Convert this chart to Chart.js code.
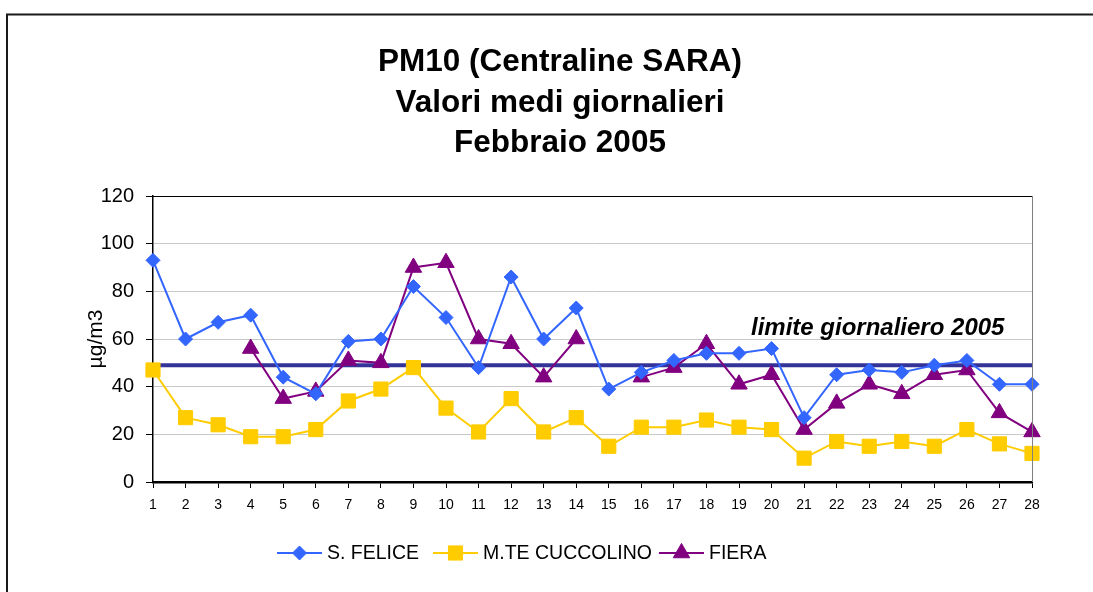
<!DOCTYPE html>
<html><head><meta charset="utf-8">
<style>html,body{margin:0;padding:0;background:#fff;overflow:hidden}#wrap{width:1093px;height:592px;position:relative}</style>
<script src="https://cdn.jsdelivr.net/npm/chart.js@4/dist/chart.umd.min.js"></script>
</head><body><div id="wrap"><canvas id="c" width="1093" height="592"></canvas></div>
<script>
const days = ['1','2','3','4','5','6','7','8','9','10','11','12','13','14','15','16','17','18','19','20','21','22','23','24','25','26','27','28'];
const sFelice = [93,60,67,70,44,37,59,60,82,69,48,86,60,73,39,46,51,54,54,56,27,45,47,46,49,51,41,41];
const mteCuccolino = [47,27,24,19,19,22,34,39,48,31,21,35,21,27,15,23,23,26,23,22,10,17,15,17,15,22,16,12];
const fiera = [null,null,null,56,35,38,51,50,90,92,60,58,44,60,null,44,48,58,41,45,22,33,41,37,45,47,29,21];
const limite = [49,49,49,49,49,49,49,49,49,49,49,49,49,49,49,49,49,49,49,49,49,49,49,49,49,49,49,49];
const yTicks = [0,20,40,60,80,100,120];
const titleLines = ['PM10 (Centraline SARA)','Valori medi giornalieri','Febbraio 2005'];
const seriesNames = ['S. FELICE','M.TE CUCCOLINO','FIERA'];
const limitLabel = 'limite giornaliero 2005';
const yTitle = 'µg/m3';

const FONT = "'Liberation Sans', Arial, sans-serif";
const colors = ['#3366FF','#FFCC00','#800080'];
const styles = ['rectRot','rect','triangle'];
const radii = [7,10,9.5];

function drawMarker(ctx, style, r, x, y, color){
  ctx.save();
  ctx.fillStyle = color; ctx.strokeStyle = color; ctx.lineWidth = 1;
  ctx.beginPath();
  if (style === 'rectRot'){
    ctx.moveTo(x, y - r); ctx.lineTo(x + r, y); ctx.lineTo(x, y + r); ctx.lineTo(x - r, y);
  } else if (style === 'rect'){
    const s = Math.SQRT1_2 * r; ctx.rect(x - s, y - s, 2*s, 2*s);
  } else {
    ctx.moveTo(x, y - r); ctx.lineTo(x + r*Math.sin(Math.PI/3), y + r/2); ctx.lineTo(x - r*Math.sin(Math.PI/3), y + r/2);
  }
  ctx.closePath(); ctx.fill(); ctx.stroke();
  ctx.restore();
}

const decor = {
  id: 'decor',
  beforeDraw(chart){
    const ctx = chart.ctx;
    ctx.save();
    ctx.fillStyle = '#fff'; ctx.fillRect(0,0,chart.width,chart.height);
    ctx.restore();
  },
  afterDatasetsDraw(chart){
    const ctx = chart.ctx, a = chart.chartArea;
    ctx.save();
    ctx.strokeStyle = '#000'; ctx.lineWidth = 1;
    ctx.beginPath(); ctx.moveTo(a.left, a.top + 0.5); ctx.lineTo(a.right + 1, a.top + 0.5); ctx.stroke();
    ctx.strokeStyle = '#808080';
    ctx.beginPath(); ctx.moveTo(a.right + 0.5, a.top); ctx.lineTo(a.right + 0.5, a.bottom); ctx.stroke();
    ctx.restore();
  },
  afterDraw(chart){
    const ctx = chart.ctx;
    ctx.save();
    ctx.strokeStyle = '#1a1a1a'; ctx.lineWidth = 2;
    ctx.beginPath(); ctx.moveTo(7, 592); ctx.lineTo(7, 14.5); ctx.lineTo(1093, 14.5); ctx.stroke();
    ctx.fillStyle = '#000'; ctx.textAlign = 'center'; ctx.textBaseline = 'alphabetic';
    ctx.font = 'bold 31.5px ' + FONT;
    const base = [71, 112, 152];
    titleLines.forEach((t,i)=> ctx.fillText(t, 560, base[i]));
    ctx.textAlign = 'left';
    ctx.font = 'italic bold 24px ' + FONT;
    ctx.fillText(limitLabel, 751, 335);
    const lx = [277, 433, 659];
    ctx.font = '19.5px ' + FONT; ctx.textBaseline = 'middle';
    const ly = 553;
    seriesNames.forEach((n,i)=>{
      ctx.strokeStyle = colors[i]; ctx.lineWidth = 2;
      ctx.beginPath(); ctx.moveTo(lx[i], ly); ctx.lineTo(lx[i] + 45, ly); ctx.stroke();
      drawMarker(ctx, styles[i], radii[i], lx[i] + 22.5, ly, colors[i]);
      ctx.fillStyle = '#000';
      ctx.fillText(n, lx[i] + 50, ly + 1);
    });
    ctx.restore();
  }
};

const PAD_LEFT = 40;
new Chart(document.getElementById('c'), {
  type: 'line',
  data: {
    labels: days,
    datasets: [
      {label: seriesNames[0], data: sFelice, borderColor: colors[0], backgroundColor: colors[0], pointStyle: styles[0], pointRadius: radii[0], pointBorderWidth: 1, borderWidth: 2, tension: 0, order: 1},
      {label: seriesNames[1], data: mteCuccolino, borderColor: colors[1], backgroundColor: colors[1], pointStyle: styles[1], pointRadius: radii[1], pointBorderWidth: 1, borderWidth: 2, tension: 0, order: 0},
      {label: seriesNames[2], data: fiera, borderColor: colors[2], backgroundColor: colors[2], pointStyle: styles[2], pointRadius: radii[2], pointBorderWidth: 1, borderWidth: 2, tension: 0, spanGaps: false, order: 2},
      {label: limitLabel, data: limite, borderColor: '#333399', backgroundColor: '#333399', pointRadius: 0, borderWidth: 4, tension: 0, order: 10}
    ]
  },
  options: {
    responsive: false, animation: false, devicePixelRatio: 1,
    layout: {padding: {left: PAD_LEFT, right: 61, top: 196, bottom: 70}},
    plugins: {legend: {display: false}, title: {display: false}, tooltip: {enabled: false}},
    scales: {
      x: {
        offset: false,
        afterFit(s){ s.height = 40; },
        grid: {drawOnChartArea: false, drawTicks: true, tickLength: 6, color: '#000', tickColor: '#000'},
        border: {color: '#000', width: 2.5},
        ticks: {font: {size: 14, family: FONT}, color: '#000', padding: 9, maxRotation: 0, autoSkip: false}
      },
      y: {
        min: 0, max: 120,
        afterFit(s){ s.width = 153 - PAD_LEFT; },
        afterBuildTicks(s){ s.ticks = yTicks.map(v=>({value: v})); },
        grid: {color: '#c8c8c8', tickColor: '#000', tickLength: 7, lineWidth: 1},
        border: {color: '#000', width: 1.5},
        ticks: {font: {size: 20, family: FONT}, color: '#000', padding: 12},
        title: {display: true, text: yTitle, font: {size: 21, family: FONT}, color: '#000', padding: {top: 44, bottom: 0}}
      }
    }
  },
  plugins: [decor]
});
</script>
</body></html>
